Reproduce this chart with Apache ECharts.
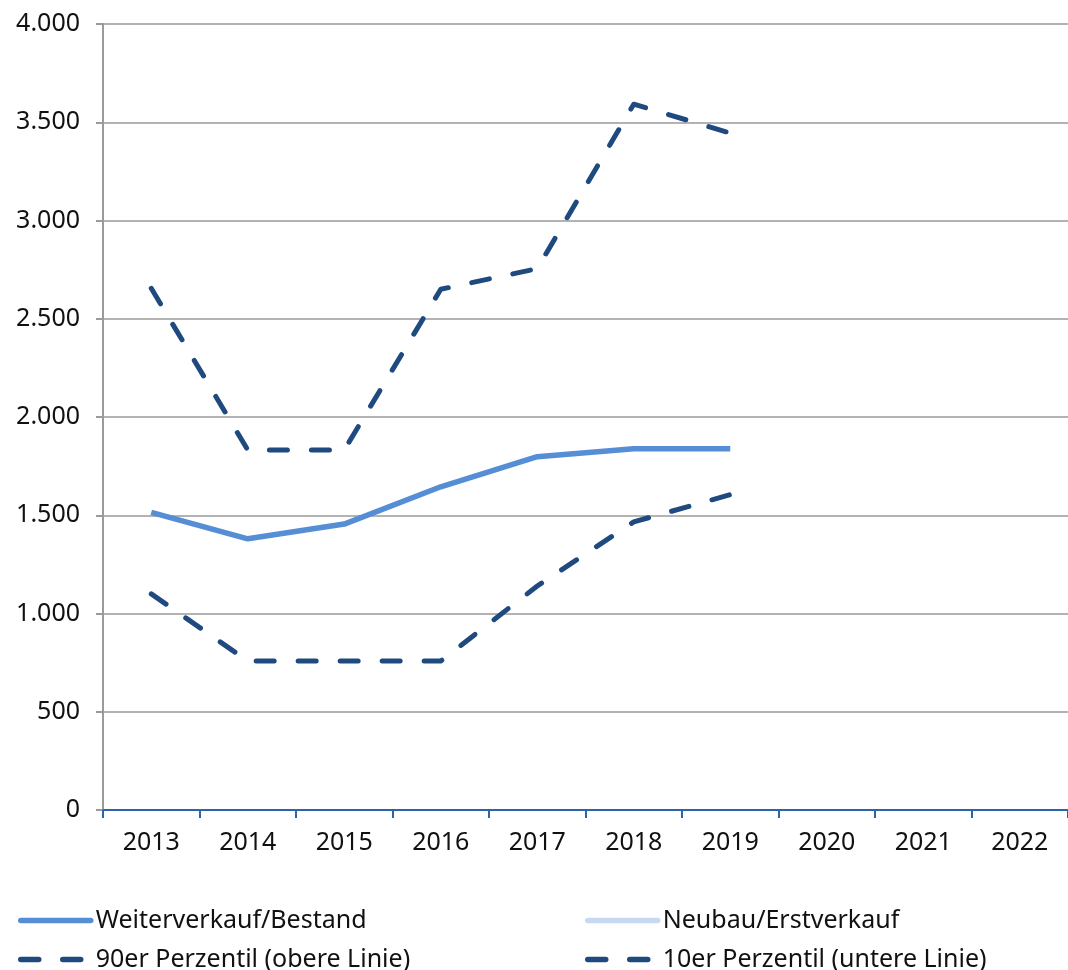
<!DOCTYPE html>
<html><head><meta charset="utf-8">
<script src="https://cdn.jsdelivr.net/npm/echarts@6/dist/echarts.min.js"></script>
<style>html,body{margin:0;padding:0;background:#fff}#c{width:1068px;height:970px}</style>
</head><body><div id="c"></div>
<script>
const years = ['2013','2014','2015','2016','2017','2018','2019','2020','2021','2022'];
const weiterverkauf = [1515, 1380, 1455, 1645, 1798, 1838, 1838, null, null, null];
const neubau = [null, null, null, null, null, null, null, null, null, null];
const p90 = [2655, 1832, 1832, 2650, 2755, 3592, 3445, null, null, null];
const p10 = [1100, 758, 758, 758, 1140, 1466, 1605, null, null, null];
const yTicks = {min: 0, max: 4000, interval: 500};

const font = 'Noto Sans';
const fs = 25;
const dash = [18, 24];
const names = ['Weiterverkauf/Bestand', 'Neubau/Erstverkauf', '90er Perzentil (obere Linie)', '10er Perzentil (untere Linie)'];
function leg(name, left, top, isDash) {
  return {
    left: left, top: top, padding: 0, orient: 'horizontal',
    itemWidth: 70, itemHeight: 14,
    itemStyle: {opacity: 0},
    lineStyle: {width: 5.5, cap: 'round', type: isDash ? dash : 'solid'},
    textStyle: {fontSize: fs, color: '#111', fontFamily: font},
    data: [name]
  };
}
const chart = echarts.init(document.getElementById('c'));
chart.setOption({
  animation: false,
  textStyle: {fontFamily: font},
  grid: {left: 103, right: 0, top: 24, bottom: 160, containLabel: false},
  legend: [
    leg(names[0], 18, 908, false),
    leg(names[1], 585, 908, false),
    leg(names[2], 18, 947, true),
    leg(names[3], 585, 947, true)
  ],
  xAxis: {
    type: 'category', data: years, boundaryGap: true,
    axisLine: {lineStyle: {color: '#2c63ad', width: 2}},
    axisTick: {show: true, length: 8, lineStyle: {color: '#2c63ad', width: 2}},
    axisLabel: {fontSize: fs, color: '#111', margin: 20, fontFamily: font},
    splitLine: {show: false}
  },
  yAxis: {
    type: 'value', min: yTicks.min, max: yTicks.max, interval: yTicks.interval,
    axisLine: {show: true, lineStyle: {color: '#9a9a9a', width: 2}},
    axisTick: {show: true, length: 7, lineStyle: {color: '#9a9a9a', width: 2}},
    axisLabel: {fontSize: fs, color: '#111', margin: 23, fontFamily: font,
      formatter: v => v >= 1000 ? Math.floor(v/1000) + '.' + String(v%1000).padStart(3,'0') : String(v)},
    splitLine: {lineStyle: {color: '#9a9a9a', width: 1.5}}
  },
  series: [
    {name: names[0], type: 'line', data: weiterverkauf, symbol: 'none',
     lineStyle: {color: '#558ed5', width: 5.5}, itemStyle: {color: '#558ed5'}, z: 3},
    {name: names[1], type: 'line', data: neubau, symbol: 'none',
     lineStyle: {color: '#c6d9f1', width: 5.5}, itemStyle: {color: '#c6d9f1'}},
    {name: names[2], type: 'line', data: p90, symbol: 'none',
     lineStyle: {color: '#1f4a7f', width: 5, type: dash, cap: 'round', join: 'round'}, itemStyle: {color: '#1f4a7f'}},
    {name: names[3], type: 'line', data: p10, symbol: 'none',
     lineStyle: {color: '#1f4a7f', width: 5, type: dash, cap: 'round', join: 'round'}, itemStyle: {color: '#1f4a7f'}}
  ]
});
</script></body></html>
